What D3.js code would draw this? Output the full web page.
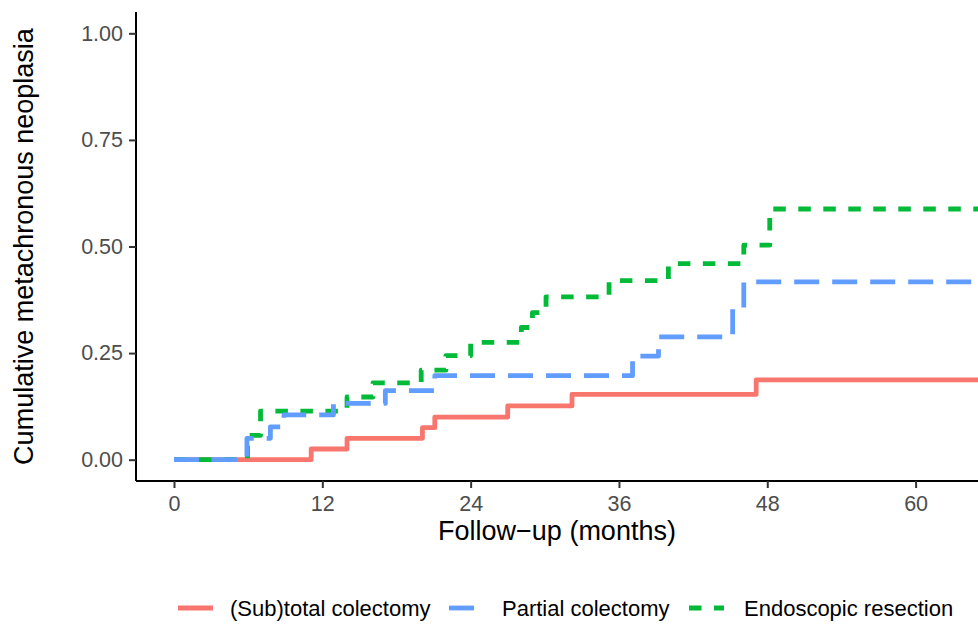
<!DOCTYPE html>
<html>
<head>
<meta charset="utf-8">
<script src="https://cdn.jsdelivr.net/npm/d3@7"></script>
<style>
  html, body { margin: 0; padding: 0; background: #fff; }
  svg { display: block; font-family: "Liberation Sans", Arial, sans-serif; }
</style>
</head>
<body>
<svg id="chart" width="978" height="626"></svg>
<script>
// ---- data ----
const groups = ["(Sub)total colectomy", "Partial colectomy", "Endoscopic resection"];
const colors = ["#F8766D", "#619CFF", "#00BA38"];

const subtotalTimes  = [0, 11.1, 14.0, 20.1, 21.1, 27.0, 32.2, 47.1, 66];
const subtotalValues = [0, 0.025, 0.05, 0.075, 0.10, 0.126, 0.153, 0.187, 0.187];

const partialTimes  = [0, 5.9, 7.8, 8.9, 12.9, 17.1, 21.1, 37.1, 39.2, 45.2, 46.1, 66];
const partialValues = [0, 0.05, 0.077, 0.105, 0.132, 0.162, 0.197, 0.243, 0.288, 0.355, 0.417, 0.417];

const endoTimes  = [0, 5.95, 7.0, 14.0, 16.1, 20.0, 22.0, 24.0, 28.1, 29.0, 30.1, 35.2, 40.0, 46.1, 48.2, 66];
const endoValues = [0, 0.057, 0.114, 0.147, 0.18, 0.21, 0.244, 0.275, 0.31, 0.345, 0.382, 0.42, 0.46, 0.503, 0.588, 0.588];

const xTicks = [0, 12, 24, 36, 48, 60];
const yTicks = [0, 0.25, 0.5, 0.75, 1.0];

// ---- layout ----
const svg = d3.select("#chart");
const pL = 136, pR = 978, pT = 12, pB = 481;
const pxPerMonth = 12.36;
const x0 = -38 / pxPerMonth;
const x = d3.scaleLinear().domain([x0, x0 + (pR - pL) / pxPerMonth]).range([pL, pR]);
const y = d3.scaleLinear().domain([-0.05, 1.05]).range([pB, pT]);

svg.append("defs").append("clipPath").attr("id", "clip")
  .append("rect").attr("x", pL).attr("y", pT).attr("width", pR - pL).attr("height", pB - pT);

const series = [
  { name: groups[0], color: colors[0], t: subtotalTimes, v: subtotalValues, dash: null },
  { name: groups[1], color: colors[1], t: partialTimes, v: partialValues, dash: "25,13" },
  { name: groups[2], color: colors[2], t: endoTimes, v: endoValues, dash: "12.5,12.5" }
];

const line = d3.line().x(d => x(d[0])).y(d => y(d[1])).curve(d3.curveStepAfter);
const drawOrder = [0, 2, 1];
const g = svg.append("g").attr("clip-path", "url(#clip)");
drawOrder.forEach(i => {
  const s = series[i];
  g.append("path")
    .datum(s.t.map((t, k) => [t, s.v[k]]))
    .attr("fill", "none")
    .attr("stroke", s.color)
    .attr("stroke-width", 4.8)
    .attr("stroke-linejoin", "round")
    .attr("stroke-dasharray", s.dash)
    .attr("d", line);
});

// ---- axes ----
const tickFont = 21.5;
const xAxis = svg.append("g").attr("transform", `translate(0,${pB})`)
  .call(d3.axisBottom(x).tickValues(xTicks).tickFormat(d3.format("d")).tickSize(7).tickSizeOuter(0).tickPadding(8));
const yAxis = svg.append("g").attr("transform", `translate(${pL},0)`)
  .call(d3.axisLeft(y).tickValues(yTicks).tickFormat(d3.format(".2f")).tickSize(7).tickSizeOuter(0).tickPadding(6));

[xAxis, yAxis].forEach(a => {
  a.select(".domain").attr("stroke", "#000").attr("stroke-width", 2);
  a.selectAll(".tick line").attr("stroke", "#333").attr("stroke-width", 2);
  a.selectAll(".tick text").attr("fill", "#4D4D4D").attr("font-size", tickFont)
    .attr("font-family", "'Liberation Sans', Arial, sans-serif");
});
xAxis.select(".domain").attr("d", `M${pL},0H${pR}`);
yAxis.select(".domain").attr("d", `M0,${pT}V${pB}`);

// ---- titles ----
svg.append("text")
  .attr("x", (pL + pR) / 2).attr("y", 540)
  .attr("text-anchor", "middle").attr("font-size", 27).attr("fill", "#000")
  .text("Follow\u2212up (months)");

svg.append("text")
  .attr("transform", `translate(33,${(pT + pB) / 2}) rotate(-90)`)
  .attr("text-anchor", "middle").attr("font-size", 27).attr("fill", "#000")
  .text("Cumulative metachronous neoplasia");

// ---- legend ----
const legendKeyX = [178, 449, 689];
const legendTextX = [230, 502, 744];
const legendY = 608;
const lg = svg.append("g");
series.forEach((s, i) => {
  lg.append("line")
    .attr("x1", legendKeyX[i]).attr("x2", legendKeyX[i] + 35)
    .attr("y1", legendY).attr("y2", legendY)
    .attr("stroke", s.color).attr("stroke-width", 4.8)
    .attr("stroke-dasharray", s.dash);
  lg.append("text")
    .attr("x", legendTextX[i]).attr("y", legendY + 8)
    .attr("font-size", 22).attr("fill", "#000")
    .text(s.name);
});
</script>
</body>
</html>
